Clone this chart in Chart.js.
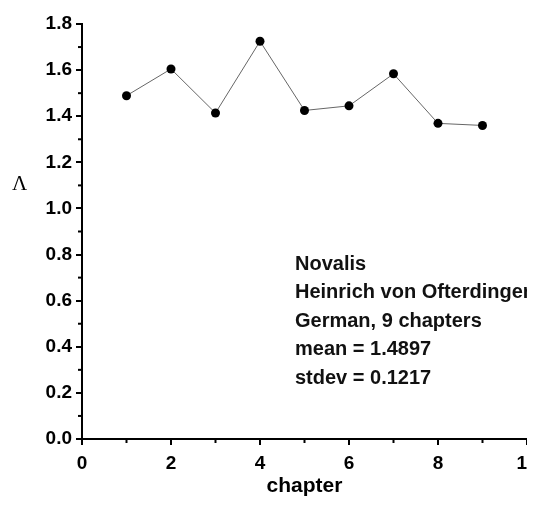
<!DOCTYPE html>
<html>
<head>
<meta charset="utf-8">
<script src="https://cdn.jsdelivr.net/npm/chart.js@4"></script>
<style>
html,body{margin:0;padding:0;background:#fff;overflow:hidden}
#wrap{width:527px;height:509px;overflow:hidden}
</style>
</head>
<body>
<div id="wrap"><canvas id="chart" width="570" height="509"></canvas></div>
<script>
// chapter number and Lambda value per chapter
const chapters = [1, 2, 3, 4, 5, 6, 7, 8, 9]
const lambda = [1.489, 1.605, 1.414, 1.725, 1.425, 1.445, 1.584, 1.369, 1.360]

const minorX = [1, 3, 5, 7, 9]
const minorY = [0.1, 0.3, 0.5, 0.7, 0.9, 1.1, 1.3, 1.5, 1.7]

const notes = [
"Novalis",
"Heinrich von Ofterdingen",
"German, 9 chapters",
"mean = 1.4897",
"stdev = 0.1217"
]

const sans = '"Liberation Sans", Arial, sans-serif'

// minor ticks, the Lambda label and the text block
const extras = {
id: 'extras',
afterDraw(chart){
let ctx = chart.ctx
let x = chart.scales.x
let y = chart.scales.y
ctx.save()
ctx.strokeStyle = '#000'
ctx.lineWidth = 2
minorY.forEach(v=>{
let py = y.getPixelForValue(v)
ctx.beginPath(); ctx.moveTo(x.left-4, py); ctx.lineTo(x.left, py); ctx.stroke()
})
minorX.forEach(v=>{
let px = x.getPixelForValue(v)
ctx.beginPath(); ctx.moveTo(px, y.bottom); ctx.lineTo(px, y.bottom+4); ctx.stroke()
})
ctx.fillStyle = '#000'
ctx.textBaseline = 'middle'
ctx.font = '21px "Liberation Serif", serif'
ctx.fillText('Λ', 12, 184)
ctx.font = 'bold 20px ' + sans
ctx.fillStyle = '#111'
notes.forEach((t,i)=>{
ctx.fillText(t, 295, 264 + i*28.5)
})
ctx.restore()
}
}

new Chart(document.getElementById('chart'), {
type: 'line',
data: {
datasets: [{
data: chapters.map((c,i)=>({x:c, y:lambda[i]})),
borderColor: '#666',
borderWidth: 1,
pointRadius: 4.5,
pointBackgroundColor: '#000',
pointBorderColor: '#000',
pointBorderWidth: 0,
tension: 0
}]
},
options: {
responsive: false,
animation: false,
layout: {padding: {left: 0, top: 24, right: 43, bottom: 0}},
plugins: {legend: {display: false}, tooltip: {enabled: false}},
scales: {
x: {
type: 'linear',
min: 0, max: 10,
afterFit: s=>{ s.height = 70 },
ticks: {stepSize: 2, color: '#000', padding: 7, font: {family: sans, size: 19, weight: 'bold'}},
grid: {drawOnChartArea: false, drawTicks: true, tickLength: 6, color: '#000', lineWidth: 2},
border: {color: '#000', width: 2},
title: {display: true, text: 'chapter', color: '#000', padding: {top: 4, bottom: 10},
font: {family: sans, size: 21, weight: 'bold'}}
},
y: {
min: 0, max: 1.8,
afterFit: s=>{ s.width = 82 },
ticks: {stepSize: 0.2, color: '#000', padding: 4,
callback: v=>v.toFixed(1),
font: {family: sans, size: 19, weight: 'bold'}},
grid: {drawOnChartArea: false, drawTicks: true, tickLength: 6, color: '#000', lineWidth: 2},
border: {color: '#000', width: 2}
}
}
},
plugins: [extras]
})
</script>
</body>
</html>
